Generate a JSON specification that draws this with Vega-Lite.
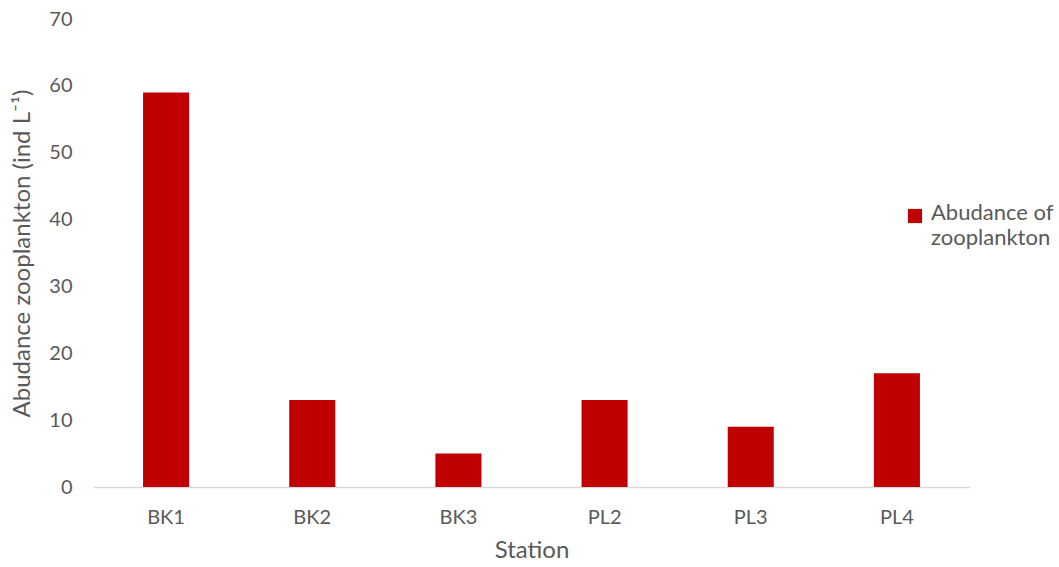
{
  "$schema": "https://vega.github.io/schema/vega-lite/v6.json",
  "width": 877,
  "height": 468,
  "autosize": "none",
  "padding": {"left": 93, "top": 19, "right": 89, "bottom": 80},
  "background": "white",
  "config": {"view": {"stroke": null}, "font": "Lato"},
  "data": {"values": [
    {"Station": "BK1", "Abundance": 59, "Series": "Abudance of zooplankton"},
    {"Station": "BK2", "Abundance": 13, "Series": "Abudance of zooplankton"},
    {"Station": "BK3", "Abundance": 5, "Series": "Abudance of zooplankton"},
    {"Station": "PL2", "Abundance": 13, "Series": "Abudance of zooplankton"},
    {"Station": "PL3", "Abundance": 9, "Series": "Abudance of zooplankton"},
    {"Station": "PL4", "Abundance": 17, "Series": "Abudance of zooplankton"}
  ]},
  "mark": {"type": "bar", "color": "#C00000"},
  "encoding": {
    "x": {
      "field": "Station", "type": "nominal", "sort": null,
      "scale": {"paddingInner": 0.685, "paddingOuter": 0.3425},
      "axis": {
        "title": "Station", "labelAngle": 0, "ticks": false,
        "domainColor": "#D9D9D9", "domainWidth": 1.5,
        "labelColor": "#595959", "labelFontSize": 20, "labelPadding": 20,
        "titleColor": "#595959", "titleFontSize": 24, "titleFontWeight": "normal", "titlePadding": 11
      }
    },
    "y": {
      "field": "Abundance", "type": "quantitative",
      "scale": {"domain": [0, 70], "nice": false},
      "axis": {
        "title": "Abudance zooplankton (ind L⁻¹)", "values": [0,10,20,30,40,50,60,70],
        "grid": false, "domain": false, "ticks": false,
        "labelColor": "#595959", "labelFontSize": 20, "labelPadding": 21,
        "titleColor": "#595959", "titleFontSize": 24, "titleFontWeight": "normal", "titlePadding": 14
      }
    },
    "color": {
      "field": "Series", "type": "nominal",
      "scale": {"range": ["#C00000"]},
      "legend": {
        "title": null, "orient": "none", "legendX": 811, "legendY": 186,
        "symbolType": "square", "symbolSize": 200, "symbolStrokeWidth": 0,
        "labelExpr": "['Abudance of', 'zooplankton']",
        "labelFontSize": 22, "labelColor": "#595959", "labelBaseline": "top", "labelOffset": 5,
        "labelLimit": 300,
        "encode": {"labels": {"update": {"lineHeight": {"value": 25}, "dy": {"value": -13}}}}
      }
    }
  }
}
